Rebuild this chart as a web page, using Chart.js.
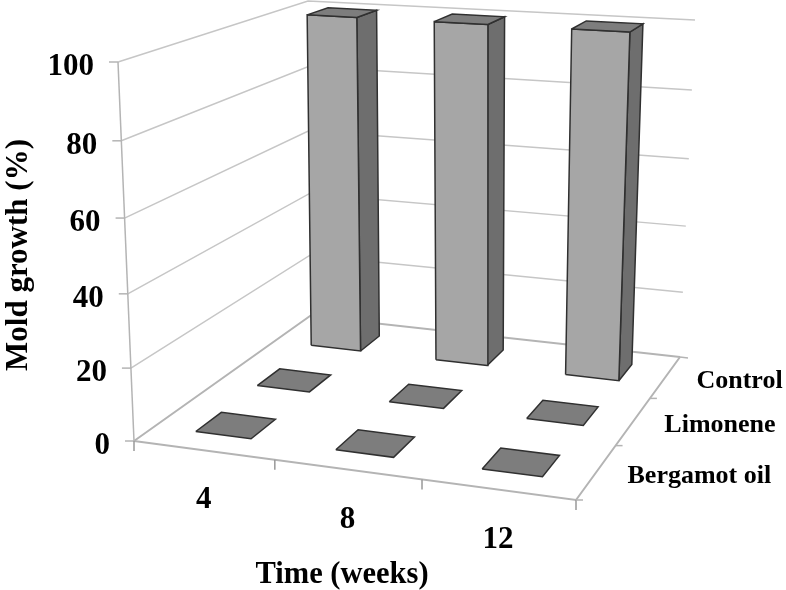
<!DOCTYPE html>
<html>
<head>
<meta charset="utf-8">
<title>Mold growth</title>
<script src="https://cdn.jsdelivr.net/npm/chart.js@4"></script>
<style>
  html, body { margin: 0; padding: 0; background: #fff; }
  canvas { display: block; }
</style>
</head>
<body>
<canvas id="myChart" width="786" height="590"></canvas>
<script>
// data
var weeks = ['4', '8', '12'];
var seriesNames = ['Bergamot oil', 'Limonene', 'Control'];
var bergamotValues = [0, 0, 0];
var limoneneValues = [0, 0, 0];
var controlValues = [100, 100, 100];
var yTicks = [0, 20, 40, 60, 80, 100];

var seriesValues = [bergamotValues, limoneneValues, controlValues];

/*
# perspective of the box: floor and top corners in page pixels
*/
var floorQuad = [[134, 441], [576, 500], [680, 357], [310, 316]];
var topQuad = [[118, 62], [589, 96], [695, 20], [308, 1]];
var depthBend = 1.05;
var barShare = 0.4;

function squareToQuad(q) {
  var dx1 = q[1][0] - q[2][0], dx2 = q[3][0] - q[2][0], sx = q[0][0] - q[1][0] + q[2][0] - q[3][0];
  var dy1 = q[1][1] - q[2][1], dy2 = q[3][1] - q[2][1], sy = q[0][1] - q[1][1] + q[2][1] - q[3][1];
  var det = dx1 * dy2 - dx2 * dy1;
  var g = (sx * dy2 - dx2 * sy) / det;
  var h = (dx1 * sy - sx * dy1) / det;
  var a = q[1][0] - q[0][0] + g * q[1][0], b = q[3][0] - q[0][0] + h * q[3][0], c = q[0][0];
  var d = q[1][1] - q[0][1] + g * q[1][1], e = q[3][1] - q[0][1] + h * q[3][1], f = q[0][1];
  return function (u, w) {
    var z = g * u + h * w + 1;
    return [(a * u + b * w + c) / z, (d * u + e * w + f) / z];
  };
}
var floorAt = squareToQuad(floorQuad);
var topAt = squareToQuad(topQuad);

// u along time axis, w into the page, v the value 0-100
function project(u, w, v) {
  var s = v / 100;
  var t = s / (s + depthBend * (1 - s));
  var p0 = floorAt(u, w), p1 = topAt(u, w);
  return { x: p0[0] + (p1[0] - p0[0]) * t, y: p0[1] + (p1[1] - p0[1]) * t };
}

/*
# everything is a scatter dataset, the later one is painted on top
*/
var datasets = [];
function addLine(points, color, width) {
  datasets.push({
    data: points, showLine: true, pointRadius: 0, borderColor: color, borderWidth: width,
    fill: false, clip: false, order: -datasets.length
  });
}
function addFace(points, color) {
  datasets.push({
    data: points.concat([points[0]]), showLine: true, pointRadius: 0, borderColor: '#303030', borderWidth: 1.5,
    backgroundColor: color, fill: 'shape', clip: false, order: -datasets.length
  });
}
function nudge(p, dx, dy) { return { x: p.x + dx, y: p.y + dy }; }

var gridColor = '#c6c6c6';
var axisColor = '#b4b4b4';

yTicks.forEach(function (v) {
  var back = project(0, 1, v);
  if (v > 0) {
    addLine([project(0, 0, v), back, project(1, 1, v)], gridColor, 1.5);
  }
  addLine([nudge(project(0, 0, v), -9, 0), project(0, 0, v)], axisColor, 1.5);
});
addLine([project(0, 0, 0), project(0, 0, 100)], axisColor, 1.5);
addLine([project(0, 0, 0), project(0, 1, 0), project(1, 1, 0)], axisColor, 2);
addLine([project(0, 0, 0), project(1, 0, 0), project(1, 1, 0)], axisColor, 2);
addLine([project(1, 1, 0), nudge(project(1, 1, 0), 8, 1)], axisColor, 1.5);

for (var n = 0; n <= weeks.length; n++) {
  var fp = project(n / weeks.length, 0, 0);
  addLine([fp, nudge(fp, 0, 10)], '#999999', 1.5);
}
for (var m = 0; m < seriesNames.length; m++) {
  var sp = project(1, m / seriesNames.length, 0);
  addLine([sp, nudge(sp, 7, 0)], axisColor, 1.5);
}

// bars back row first
for (var j = seriesValues.length - 1; j >= 0; j--) {
  for (var i = 0; i < weeks.length; i++) {
    var v = seriesValues[j][i];
    var u0 = (i + 0.5 - barShare / 2) / weeks.length, u1 = (i + 0.5 + barShare / 2) / weeks.length;
    var w0 = (j + 0.5 - barShare / 2) / seriesValues.length, w1 = (j + 0.5 + barShare / 2) / seriesValues.length;
    if (v > 0) {
      addFace([project(u1, w0, 0), project(u1, w1, 0), project(u1, w1, v), project(u1, w0, v)], '#6e6e6e');
      addFace([project(u0, w0, 0), project(u1, w0, 0), project(u1, w0, v), project(u0, w0, v)], '#a6a6a6');
    }
    addFace([project(u0, w0, v), project(u1, w0, v), project(u1, w1, v), project(u0, w1, v)], '#7d7d7d');
  }
}

/*
# labels
*/
var labelsPlugin = {
  id: 'labels3d',
  afterDraw: function (chart) {
    var ctx = chart.ctx;
    var family = '"Liberation Serif", "Times New Roman", serif';
    ctx.save();
    ctx.fillStyle = '#000';
    ctx.textBaseline = 'middle';

    ctx.font = 'bold 31px ' + family;
    ctx.textAlign = 'right';
    yTicks.forEach(function (v) {
      var p = project(0, 0, v);
      ctx.fillText(String(v), p.x - 24, p.y + 5);
    });

    ctx.textAlign = 'center';
    weeks.forEach(function (name, i) {
      var p = project((i + 0.5) / weeks.length, 0, 0);
      ctx.fillText(name, p.x, p.y + 50);
    });

    ctx.font = 'bold 26px ' + family;
    ctx.textAlign = 'left';
    seriesNames.forEach(function (name, j) {
      var p = project(1, (j + 0.5) / seriesNames.length, 0);
      ctx.fillText(name, p.x + 31, p.y + 4);
    });

    ctx.font = 'bold 30.5px ' + family;
    ctx.textAlign = 'center';
    ctx.fillText('Time (weeks)', 342, 575);

    ctx.font = 'bold 31px ' + family;
    ctx.translate(19, 255);
    ctx.rotate(-Math.PI / 2);
    ctx.fillText('Mold growth (%)', 0, 0);
    ctx.restore();
  }
};

var ctx = document.getElementById('myChart').getContext('2d');
var chart = new Chart(ctx, {
  type: 'scatter',
  data: { datasets: datasets },
  plugins: [labelsPlugin],
  options: {
    responsive: false,
    animation: false,
    layout: { padding: 0 },
    plugins: { legend: { display: false }, tooltip: { enabled: false } },
    scales: {
      x: { type: 'linear', min: 0, max: 786, display: false },
      y: { type: 'linear', min: 0, max: 590, reverse: true, display: false }
    }
  }
});
</script>
</body>
</html>
